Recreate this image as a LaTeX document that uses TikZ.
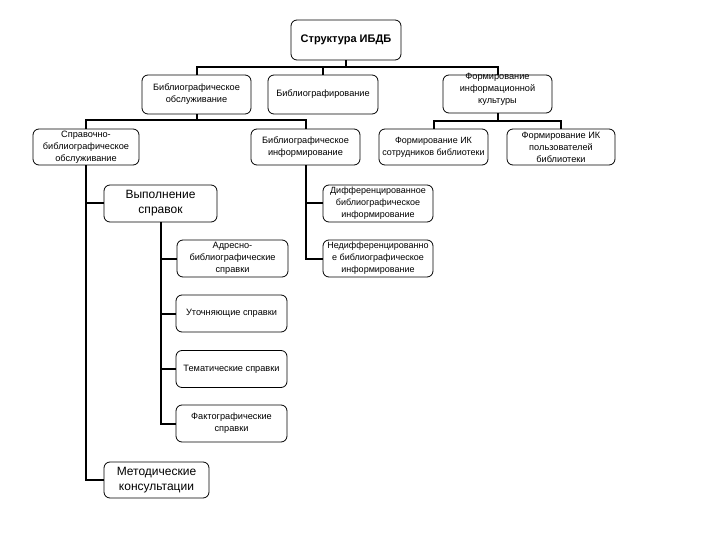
\documentclass[tikz,border=0pt]{standalone}
\usepackage{fontspec}
\setmainfont{Liberation Sans}
\begin{document}
\begin{tikzpicture}[x=1pt,y=-1pt,
  box/.style={draw=black, line width=0.8pt, rounded corners=6pt, fill=white,
    inner sep=0pt, align=center, font=\fontsize{9.2}{12}\selectfont},
  big/.style={font=\fontsize{12}{15}\selectfont},
  conn/.style={draw=black, line width=2pt}]
\useasboundingbox[fill=white] (0,0) rectangle (720,540);
% level 0
\node[box, minimum width=110, minimum height=40, font=\fontsize{11}{13}\selectfont\bfseries] (root) at (346,40) {\raisebox{-5pt}{Структура ИБДБ}};
% level 1
\node[box, minimum width=109, minimum height=39] (bo) at (196.5,94.5) {Библиографическое\\обслуживание};
\node[box, minimum width=110, minimum height=39] (bgr) at (323,94.5) {Библиографирование};
\node[box, minimum width=109, minimum height=38] (fik) at (497.5,94) {\raisebox{3pt}[0pt][0pt]{\begin{tabular}{@{}c@{}}Формирование\\информационной\\культуры\end{tabular}}};
% level 2
\node[box, minimum width=106, minimum height=36] (sbo) at (86,147) {Справочно-\\библиографическое\\обслуживание};
\node[box, minimum width=109, minimum height=36] (bi) at (305.5,147) {Библиографическое\\информирование};
\node[box, minimum width=109, minimum height=36, font=\fontsize{9}{12}\selectfont] (fiks) at (433.5,147) {Формирование ИК\\сотрудников библиотеки};
\node[box, minimum width=108, minimum height=36] (fikp) at (561,147) {Формирование ИК\\пользователей\\библиотеки};
% level 3
\node[box, big, minimum width=113, minimum height=37] (vs) at (160.5,203.5) {Выполнение\\справок};
\node[box, big, minimum width=105, minimum height=36] (mk) at (156.5,480) {Методические\\консультации};
\node[box, minimum width=110, minimum height=37, font=\fontsize{9}{12}\selectfont] (dif) at (378,203.5) {Дифференцированное\\библиографическое\\информирование};
\node[box, minimum width=110, minimum height=37, font=\fontsize{9}{12}\selectfont] (nedif) at (378,258.5) {Недифференцированно\\е библиографическое\\информирование};
% level 4
\node[box, minimum width=111, minimum height=37] (ad) at (232.5,258.5) {Адресно-\\библиографические\\справки};
\node[box, minimum width=111, minimum height=37] (ut) at (231.5,313.5) {Уточняющие справки};
\node[box, minimum width=111, minimum height=37] (tem) at (231.5,369) {Тематические справки};
\node[box, minimum width=111, minimum height=37] (fakt) at (231.5,423.5) {Фактографические\\справки};
% connectors
\draw[conn] (root.south) -- ++(0,7) coordinate (rb);
\draw[conn] (rb) -| (bo.north);
\draw[conn] (rb) -| (bgr.north);
\draw[conn] (rb) -| (fik.north);
\draw[conn] (bo.south) -- ++(0,6) coordinate (bb);
\draw[conn] (bb) -| (sbo.north);
\draw[conn] (bb) -| (bi.north);
\draw[conn] (fik.south) -- ++(0,8) coordinate (fb);
\draw[conn] (fb) -| (fiks.north);
\draw[conn] (fb) -| (fikp.north);
\draw[conn] (sbo.south) |- (vs.west);
\draw[conn] (sbo.south) |- (mk.west);
\draw[conn] (vs.south) |- (ad.west);
\draw[conn] (vs.south) |- (ut.west);
\draw[conn] (vs.south) |- (tem.west);
\draw[conn] (vs.south) |- (fakt.west);
\draw[conn] (bi.south) |- (dif.west);
\draw[conn] (bi.south) |- (nedif.west);
\end{tikzpicture}
\end{document}
